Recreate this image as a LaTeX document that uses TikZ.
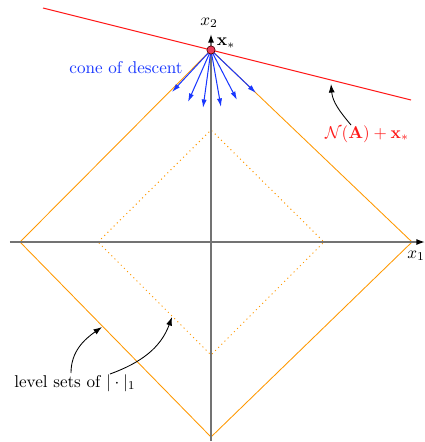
\documentclass[tikz,border=0pt]{standalone}
\usetikzlibrary{arrows.meta}
\definecolor{lorange}{RGB}{255,152,0}
\definecolor{cblue}{RGB}{25,55,255}
\definecolor{cred}{RGB}{255,25,25}
\definecolor{dotfill}{RGB}{235,60,90}
\begin{document}
\begin{tikzpicture}[x=0.585pt,y=-0.585pt,
  axisline/.style={draw=black!55,line width=0.8pt,-{Latex[length=5pt,width=3.5pt,color=black]}},
  lvl/.style={draw=lorange,line width=0.5pt},
  lvldot/.style={draw=lorange,line width=0.6pt,dotted},
  descent/.style={draw=cblue,line width=0.6pt,-{Latex[length=5pt,width=3pt]}},
  pointer/.style={draw=black,line width=0.5pt,-{Latex[length=5pt,width=3.5pt]}},
  lbl/.style={inner sep=0pt}]
\clip (0,0) rectangle (425,442);
\useasboundingbox (0,0) rectangle (425,442);
% outer level set
\coordinate (L) at (20,242);
\coordinate (R) at (412,242);
\coordinate (T) at (211,50);
\coordinate (B) at (211,437);
% inner level set
\coordinate (iL) at (98,242);
\coordinate (iR) at (324,242);
\coordinate (iT) at (211,130);
\coordinate (iB) at (211,355);
% axes ends
\coordinate (xs) at (10,242);
\coordinate (xe) at (425,242);
\coordinate (ys) at (211,441);
\coordinate (ye) at (211,34);
% affine set
\coordinate (na) at (43,8);
\coordinate (nb) at (411,100);
% descent tips
\coordinate (d1) at (172,92);
\coordinate (d2) at (188,102);
\coordinate (d3) at (203,108);
\coordinate (d4) at (221,107);
\coordinate (d5) at (237,100);
\coordinate (d6) at (256,93);
% pointer ends
\coordinate (pN) at (331,84);
\coordinate (pO) at (102,327);
\coordinate (pI) at (172,317);
\coordinate (sN) at (351,125);
\coordinate (sO) at (71,373);
\coordinate (sI) at (110,374);

\draw[lvl] (L) -- (T) -- (R) -- (B) -- cycle;
\draw[lvldot] (iL) -- (iT) -- (iR) -- (iB) -- cycle;
\draw[axisline] (xs) -- (xe);
\draw[axisline] (ys) -- (ye);
\draw[cred,line width=0.6pt] (na) -- (nb);
\foreach \d in {d1,d2,d3,d4,d5,d6}
  \draw[descent] (T) -- (\d);
\node[circle,draw=black!70!red,fill=dotfill,line width=0.4pt,minimum size=4.8pt,inner sep=0pt] (xstar) at (T) {};

\node[lbl] (x2) at (209,23) {$x_2$};
\node[lbl] (x1) at (416,256) {$x_1$};
\node[lbl] (xs*) at (226,43) {$\mathbf{x}_*$};
\node[lbl,text=cblue] (cone) at (126,68) {cone of descent};
\node[lbl,text=cred] (nlab) at (367,134) {$\mathcal{N}(\mathbf{A})+\mathbf{x}_*$};
\node[lbl] (lev) at (75,383) {level sets of $|\cdot|_1$};

\draw[pointer] (sN) to[out=130,in=-85] (pN);
\draw[pointer] (sO) to[out=90,in=215] (pO);
\draw[pointer] (sI) to[out=20,in=-110] (pI);
\end{tikzpicture}
\end{document}
